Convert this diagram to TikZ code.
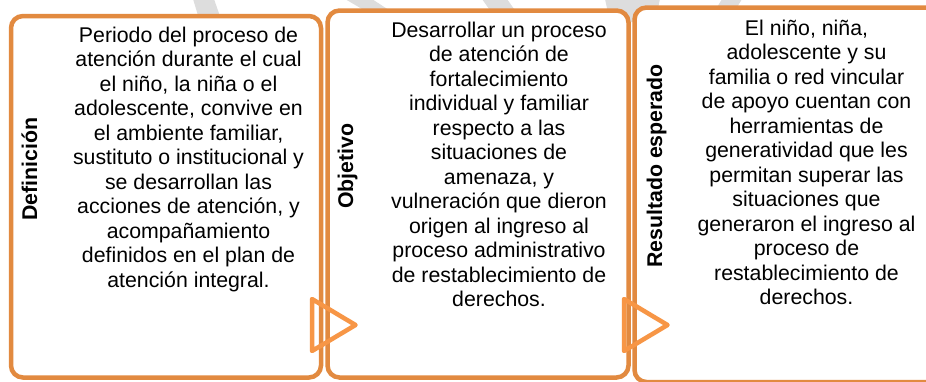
\documentclass[tikz,border=0pt]{standalone}
\usepackage{fontspec}
\setmainfont{Liberation Sans}
\definecolor{boxor}{RGB}{226,138,64}
\definecolor{trior}{RGB}{247,150,70}
\definecolor{wm}{RGB}{221,221,221}
\begin{document}
\begin{tikzpicture}[x=1pt,y=-1pt,
  boxline/.style={draw=boxor, line width=4.5pt, rounded corners=12pt, fill=white},
  tri/.style={draw=trior, line width=4.5pt, line join=round},
  body/.style={inner sep=0pt, align=center, font=\fontsize{21.3}{24.5}\selectfont, anchor=north},
  head/.style={inner sep=0pt, rotate=90, anchor=base, font=\fontsize{21.3}{24.5}\selectfont\bfseries},
  wmark/.style={fill=wm, draw=none}]
\useasboundingbox (0,0) rectangle (926,381);
\clip (0,0) rectangle (926,381);
% watermark pieces
\fill[wmark] (193,-1) -- (214,-1) -- (222,22) -- (200,22) -- cycle;
\fill[wmark] (345,-1) -- (372,-1) -- (398,16) -- (374,16) -- cycle;
\fill[wmark] (482,-1) -- (507,-1) -- (519,16) -- (494,16) -- cycle;
\fill[wmark] (605,-1) -- (660,-1) -- (655,22) -- (610,22) -- cycle;
\fill[wmark] (722,-1) -- (742,-1) -- (733,14) -- (713,14) -- cycle;
% boxes
\draw[boxline] (11,16) rectangle (321,377.5);
\draw[boxline] (327.5,10.5) rectangle (628.5,377.5);
\draw[boxline] (634.5,7.5) rectangle (940,382);
% arrows
\draw[tri] (312,299) -- (355.5,325) -- (312,351) -- cycle;
\draw[tri] (624,299) -- (667.5,325) -- (624,351) -- cycle;
% headings
\node[head] (h1) at (37,169) {Definición};
\node[head] (h2) at (353,166) {Objetivo};
\node[head] (h3) at (662,166) {Resultado esperado};
% texts
\node[body] (t1) at (188.5,26.75) {Periodo del proceso de\\atención durante el cual\\el niño, la niña o el\\adolescente, convive en\\el ambiente familiar,\\sustituto o institucional y\\se desarrollan las\\acciones de atención, y\\acompañamiento\\definidos en el plan de\\atención integral.};
\node[body] (t2) at (499,21.75) {Desarrollar un proceso\\de atención de\\fortalecimiento\\individual y familiar\\respecto a las\\situaciones de\\amenaza, y\\vulneración que dieron\\origen al ingreso al\\proceso administrativo\\de restablecimiento de\\derechos.};
\node[body] (t3) at (806.5,19.5) {El niño, niña,\\adolescente y su\\familia o red vincular\\de apoyo cuentan con\\herramientas de\\generatividad que les\\permitan superar las\\situaciones que\\generaron el ingreso al\\proceso de\\restablecimiento de\\derechos.};
\end{tikzpicture}
\end{document}
